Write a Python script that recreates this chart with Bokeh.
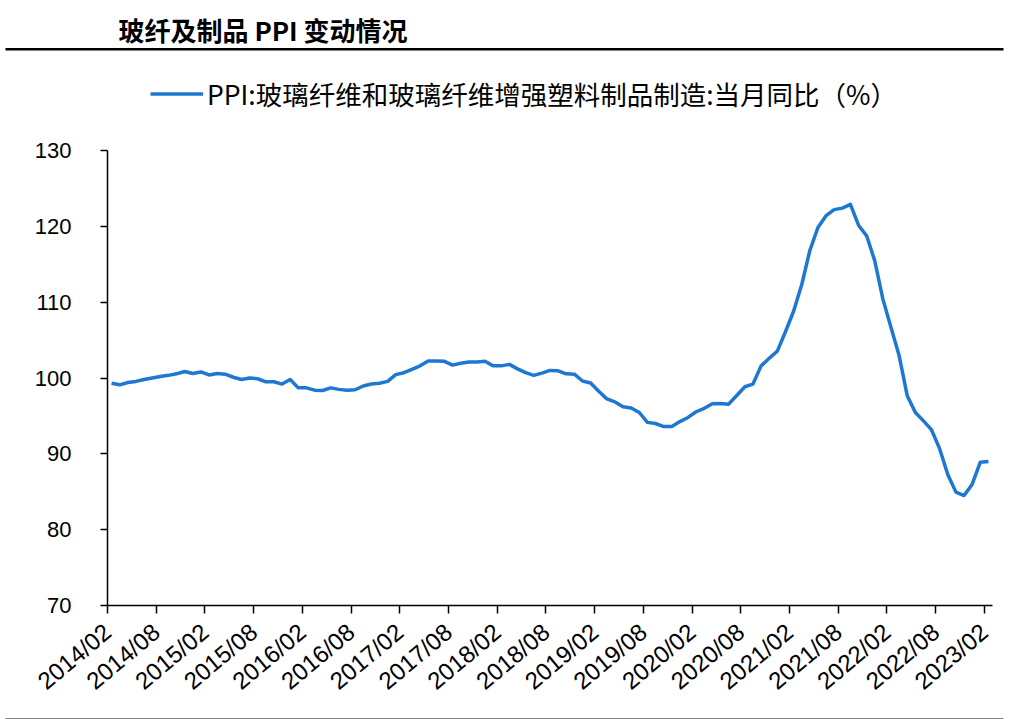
import math
import pandas as pd
from bokeh.plotting import figure
from bokeh.layouts import column
from bokeh.models import (Range1d, FixedTicker, Legend, LegendItem, Label,
                          BoxAnnotation)
from bokeh.embed import file_html
from bokeh.resources import INLINE

# ---------------- data ----------------
title_text = "玻纤及制品 PPI 变动情况"
series_name = "PPI:玻璃纤维和玻璃纤维增强塑料制品制造:当月同比（%）"

months = list(pd.period_range("2014-02", "2023-02", freq="M").strftime("%Y/%m"))

ppi_yoy = [
    99.3, 99.1, 99.4, 99.55, 99.8, 100.0, 100.2, 100.35, 100.55, 100.85,
    100.6, 100.8, 100.4, 100.6, 100.5, 100.1, 99.8, 100.0, 99.9, 99.5,
    99.5, 99.2, 99.8, 98.7, 98.7, 98.4, 98.35, 98.7, 98.5, 98.4,
    98.45, 98.95, 99.2, 99.3, 99.55, 100.45, 100.7, 101.15, 101.6, 102.25,
    102.25, 102.2, 101.7, 101.95, 102.1, 102.1, 102.2, 101.6, 101.6, 101.8,
    101.2, 100.7, 100.35, 100.65, 101.0, 100.95, 100.55, 100.5, 99.6, 99.35,
    98.25, 97.25, 96.85, 96.2, 96.05, 95.45, 94.15, 94.0, 93.6, 93.6,
    94.25, 94.8, 95.55, 96.0, 96.6, 96.65, 96.55, 97.7, 98.85, 99.2,
    101.6, 102.6, 103.55, 106.1, 108.8, 112.3, 116.8, 119.85, 121.4, 122.2,
    122.4, 122.9, 120.15, 118.75, 115.45, 110.4, 106.65, 102.95, 97.65, 95.45,
    94.35, 93.15, 90.65, 87.25, 84.95, 84.5, 86.0, 88.9, 89.0,
]

tick_labels = ["2014/02", "2014/08", "2015/02", "2015/08", "2016/02", "2016/08",
               "2017/02", "2017/08", "2018/02", "2018/08", "2019/02", "2019/08",
               "2020/02", "2020/08", "2021/02", "2021/08", "2022/02", "2022/08",
               "2023/02"]
y_ticks = [70, 80, 90, 100, 110, 120, 130]

# category centres (each month occupies one unit; ticks on month boundaries)
x_pos = [i + 0.5 for i in range(len(months))]
tick_pos = [months.index(t) for t in tick_labels]

LINE_COLOR = "#1E78D2"
W = 1012
HDR_H, FTR_H = 130, 8
MAIN_H = 719 - HDR_H - FTR_H

# ---------------- header (title, rule, legend) ----------------
hdr = figure(width=W, height=HDR_H, output_backend="svg", toolbar_location=None,
             x_range=Range1d(0, W), y_range=Range1d(0, HDR_H),
             x_axis_type=None, y_axis_type=None, min_border=0,
             title_location=None, outline_line_color=None, frame_align=False)
hdr.background_fill_color = "white"
hdr.border_fill_color = "white"

hdr.add_layout(Label(x=118, y=HDR_H - 29, text=title_text,
                     text_font="Noto Sans CJK SC", text_font_style="bold",
                     text_font_size="26px", text_color="#000000",
                     text_baseline="middle", text_align="left"))
hdr.add_layout(BoxAnnotation(left=5, right=1003, top=HDR_H - 47.5, bottom=HDR_H - 50,
                             fill_color="#000000", fill_alpha=1, line_color=None))

# legend key renderer (holds no visible point; only supplies the legend glyph)
key = hdr.line(x=[float("nan")], y=[float("nan")], line_color=LINE_COLOR,
               line_width=3.5)
legend = Legend(items=[LegendItem(label=series_name, renderers=[key])],
                location=(150, HDR_H - 113), orientation="horizontal",
                glyph_width=53, glyph_height=25, label_height=25,
                label_standoff=4, padding=0, margin=0, spacing=0,
                border_line_color=None, background_fill_alpha=0,
                label_text_font="Noto Sans CJK SC",
                label_text_font_size="26.5px", label_text_color="#000000")
hdr.add_layout(legend)

# ---------------- main chart ----------------
FL, FR = 107, 992
p = figure(width=W, height=MAIN_H, output_backend="svg", toolbar_location=None,
           x_range=Range1d(0, len(months)), y_range=Range1d(70, 130),
           min_border_left=FL, min_border_right=W - FR,
           min_border_top=20, min_border_bottom=MAIN_H - 20 - 455,
           title_location=None, outline_line_color=None, frame_align=False)
p.background_fill_color = "white"
p.border_fill_color = "white"
p.xgrid.visible = False
p.ygrid.visible = False

p.line(x_pos, ppi_yoy, line_color=LINE_COLOR, line_width=3.5, line_join="round")

ax_font = "Liberation Sans"

yax = p.yaxis[0]
yax.ticker = FixedTicker(ticks=y_ticks)
yax.major_label_text_font = ax_font
yax.major_label_text_font_size = "22px"
yax.major_label_text_color = "#000000"
yax.major_tick_out = 7
yax.major_tick_in = 0
yax.minor_tick_out = 0
yax.minor_tick_in = 0
yax.axis_line_color = "#000000"
yax.axis_line_width = 1.5
yax.major_tick_line_color = "#000000"
yax.major_tick_line_width = 1.5
yax.major_label_standoff = 29

xax = p.xaxis[0]
xax.ticker = FixedTicker(ticks=tick_pos)
xax.major_label_overrides = {pos: lbl for pos, lbl in zip(tick_pos, tick_labels)}
xax.major_label_orientation = math.radians(40)
xax.major_label_text_font = ax_font
xax.major_label_text_font_size = "24px"
xax.major_label_text_color = "#000000"
xax.major_tick_out = 8
xax.major_tick_in = 0
xax.minor_tick_out = 0
xax.minor_tick_in = 0
xax.axis_line_color = "#000000"
xax.axis_line_width = 1.5
xax.major_tick_line_color = "#000000"
xax.major_tick_line_width = 1.5
xax.major_label_standoff = 15

# ---------------- footer rule ----------------
ftr = figure(width=W, height=FTR_H, output_backend="svg", toolbar_location=None,
             x_range=Range1d(0, W), y_range=Range1d(0, FTR_H),
             x_axis_type=None, y_axis_type=None, min_border=0,
             title_location=None, outline_line_color=None, frame_align=False)
ftr.background_fill_color = "white"
ftr.border_fill_color = "white"
ftr.add_layout(BoxAnnotation(left=5, right=1003, top=FTR_H - 3, bottom=FTR_H - 6,
                             fill_color="#000000", fill_alpha=1, line_color=None))

page = column(hdr, p, ftr, spacing=0)
open("out.html", "w").write(file_html(page, INLINE))
